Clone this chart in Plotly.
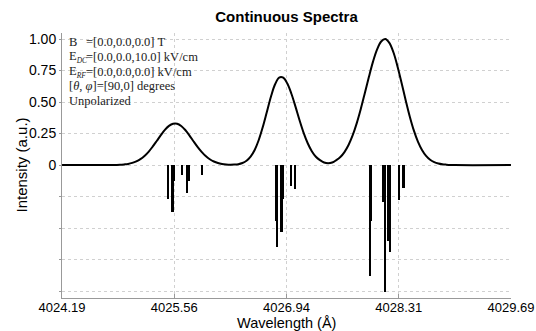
import plotly.graph_objects as go

# ---- data ----
curve_wl = [4024.19, 4024.50, 4024.80, 4024.85, 4024.90, 4024.95, 4025.00, 4025.05, 4025.10,
            4025.15, 4025.20, 4025.25, 4025.30, 4025.35, 4025.40, 4025.45, 4025.50, 4025.55,
            4025.60, 4025.65, 4025.70, 4025.75, 4025.80, 4025.85, 4025.90, 4025.95, 4026.00,
            4026.05, 4026.10, 4026.15, 4026.20, 4026.25, 4026.30, 4026.35, 4026.40, 4026.45,
            4026.50, 4026.55, 4026.60, 4026.65, 4026.70, 4026.75, 4026.80, 4026.85, 4026.90,
            4026.95, 4027.00, 4027.05, 4027.10, 4027.15, 4027.20, 4027.25, 4027.30, 4027.35,
            4027.40, 4027.45, 4027.50, 4027.55, 4027.60, 4027.65, 4027.70, 4027.75, 4027.80,
            4027.85, 4027.90, 4027.95, 4028.00, 4028.05, 4028.10, 4028.15, 4028.20, 4028.25,
            4028.30, 4028.35, 4028.40, 4028.45, 4028.50, 4028.55, 4028.60, 4028.65, 4028.70,
            4028.75, 4028.80, 4028.85, 4028.90, 4028.95, 4029.00, 4029.69]
curve_int = [0.000, 0.000, 0.0005, 0.001, 0.002, 0.005, 0.009, 0.017, 0.029,
             0.047, 0.072, 0.105, 0.146, 0.191, 0.237, 0.279, 0.311, 0.328,
             0.328, 0.310, 0.278, 0.236, 0.189, 0.144, 0.104, 0.071, 0.046,
             0.028, 0.016, 0.009, 0.005, 0.003, 0.004, 0.007, 0.016, 0.034,
             0.067, 0.120, 0.199, 0.303, 0.423, 0.544, 0.641, 0.694, 0.693,
             0.647, 0.566, 0.464, 0.356, 0.256, 0.173, 0.110, 0.066, 0.039,
             0.020, 0.014, 0.020, 0.039, 0.064, 0.103, 0.159, 0.235, 0.331,
             0.445, 0.572, 0.701, 0.821, 0.918, 0.981, 1.000, 0.970, 0.895,
             0.783, 0.652, 0.515, 0.386, 0.275, 0.186, 0.120, 0.073, 0.042,
             0.023, 0.012, 0.006, 0.003, 0.001, 0.000, 0.000]

stick_wl = [4025.488, 4025.549, 4025.568, 4025.660, 4025.727, 4025.745, 4025.911,
            4026.817, 4026.829, 4026.884, 4026.903, 4026.995, 4027.044,
            4027.968, 4027.980, 4028.134, 4028.152, 4028.186, 4028.213, 4028.320, 4028.375]
stick_int = [-0.27, -0.37, -0.13, -0.08, -0.22, -0.13, -0.08,
             -0.44, -0.65, -0.53, -0.27, -0.17, -0.19,
             -0.88, -0.44, -0.29, -1.01, -0.60, -0.69, -0.28, -0.18]

x_tickvals = [4024.19, 4025.565, 4026.94, 4028.315, 4029.69]
x_ticktext = ["4024.19", "4025.56", "4026.94", "4028.31", "4029.69"]
y_tickvals = [-1.0, -0.75, -0.5, -0.25, 0, 0.25, 0.5, 0.75, 1.0]
y_ticktext = ["", "", "", "", "0", "0.25", "0.50", "0.75", "1.00"]

sub = '<sub><span style="font-size:7.5px"><i>{}</i></span></sub>'
info_labels = ["B", "E" + sub.format("DC"), "E" + sub.format("RF")]
info_values = ["=[0.0,0.0,0.0] T", "=[0.0,0.0,10.0] kV/cm", "=[0.0,0.0,0.0] kV/cm"]
info_extra = ["[<i>θ</i>, <i>φ</i>]=[90,0] degrees", "Unpolarized"]

W, H = 536, 331
L, R, T, B = 62, 25, 33, 33
PW, PH = W - L - R, H - T - B


def px(xp):
    return (xp - L) / PW


def py(yp):
    return (H - B - yp) / PH


fig = go.Figure()
fig.add_trace(go.Bar(x=stick_wl, y=stick_int, width=0.024, base=0,
                     marker=dict(color="black", line=dict(width=0)), showlegend=False))
fig.add_trace(go.Scatter(x=curve_wl, y=curve_int, mode="lines",
                         line=dict(color="black", width=2, shape="spline"), showlegend=False))

serif = dict(family="Liberation Serif", size=12.5, color="#222")
line_y = [42, 57, 71.5, 86, 100.5]
for i, lab in enumerate(info_labels):
    fig.add_annotation(x=px(67), y=py(line_y[i]), xref="paper", yref="paper", text=lab, showarrow=False,
                       xanchor="left", yanchor="middle", font=serif)
for i, v in enumerate(info_values):
    fig.add_annotation(x=px(84), y=py(line_y[i]), xref="paper", yref="paper", text=v, showarrow=False,
                       xanchor="left", yanchor="middle", font=serif)
for i, v in enumerate(info_extra):
    fig.add_annotation(x=px(67), y=py(line_y[3 + i]), xref="paper", yref="paper", text=v, showarrow=False,
                       xanchor="left", yanchor="middle", font=serif)

# axis titles
fig.add_annotation(x=0.5, y=py(322.5), xref="paper", yref="paper", text="Wavelength (Å)", showarrow=False,
                   xanchor="center", yanchor="middle",
                   font=dict(family="Liberation Sans", size=14.5, color="black"))
fig.add_annotation(x=px(21), y=0.5, xref="paper", yref="paper", text="Intensity (a.u.)", showarrow=False,
                   textangle=-90, xanchor="center", yanchor="middle",
                   font=dict(family="Liberation Sans", size=15, color="black"))

fig.update_layout(
    width=W, height=H,
    margin=dict(l=L, r=R, t=T, b=B, autoexpand=False),
    paper_bgcolor="white", plot_bgcolor="white",
    bargap=0,
    title=dict(text="<b>Continuous Spectra</b>", x=(L + PW / 2) / W, xanchor="center",
               y=1 - 17 / H, yanchor="middle",
               font=dict(family="Liberation Sans", size=15, color="black")),
    font=dict(family="Liberation Sans", color="black"),
)
fig.update_xaxes(range=[4024.1895, 4029.6905], tickvals=x_tickvals, ticktext=x_ticktext,
                 showgrid=True, gridcolor="#d0d0d0", griddash="dot", gridwidth=1, automargin=False,
                 showline=True, linecolor="#999", linewidth=1, ticks="inside", ticklen=4, tickcolor="#999",
                 tickfont=dict(size=13, color="black"), zeroline=False, ticklabeloverflow="allow",
                 ticklabelstandoff=-3)
fig.update_yaxes(range=[-1.055, 1.048], tickvals=y_tickvals, ticktext=y_ticktext,
                 showgrid=True, gridcolor="#d0d0d0", griddash="dot", gridwidth=1, automargin=False,
                 showline=True, linecolor="#999", linewidth=1, ticks="outside", ticklen=2, tickcolor="#999",
                 tickfont=dict(size=14, color="black"), zeroline=False)

fig.write_html("out.html")
